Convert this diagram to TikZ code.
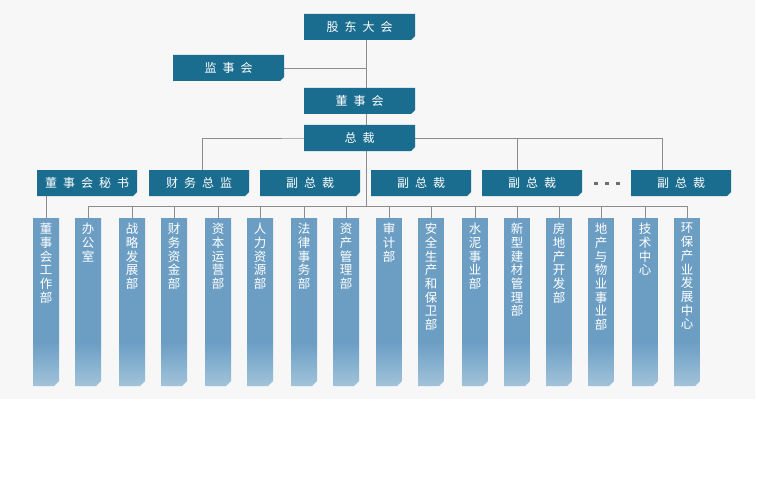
\documentclass[tikz,border=0pt]{standalone}
\usepackage{fontspec}
\setmainfont{Noto Sans CJK SC}
\usepackage{tikz}
\usetikzlibrary{
    calc,
    backgrounds
}
\definecolor{bggray}{RGB}{247,247,247}
\definecolor{boxblue}{RGB}{27,109,143}
\definecolor{deptblue}{RGB}{108,158,196}
\definecolor{deptpale}{RGB}{162,195,218}
\definecolor{linegray}{RGB}{140,140,140}
\definecolor{dotgray}{RGB}{110,110,110}
\pgfdeclareverticalshading{deptshade}{100bp}{
    color(0bp)=(deptpale); color(25bp)=(deptpale);
    color(38bp)=(deptblue); color(75bp)=(deptblue); color(100bp)=(deptblue)}
\tikzset{
    cutbox/.style={
        path picture={
            \fill[#1] (path picture bounding box.north west)
                -- (path picture bounding box.north east)
                -- ([yshift=4pt]path picture bounding box.south east)
                -- ([xshift=-4pt]path picture bounding box.south east)
                -- (path picture bounding box.south west) -- cycle;
        }},
    topbox/.style={cutbox=boxblue, minimum width=111pt, minimum height=26pt,
        inner sep=0pt, text=white, font=\fontsize{12}{14}\selectfont},
    midbox/.style={topbox, minimum width=100pt},
    deptbox/.style={minimum width=26pt, minimum height=168pt, inner sep=0pt,
        anchor=north,
        path picture={
            \shade[shading=deptshade] (path picture bounding box.north west)
                -- (path picture bounding box.north east)
                -- ([yshift=5pt]path picture bounding box.south east)
                -- ([xshift=-5pt]path picture bounding box.south east)
                -- (path picture bounding box.south west) -- cycle;
        }},
    deptlab/.style={anchor=north, yshift=-3pt, inner sep=2pt, text=white,
        align=center, font=\fontsize{12.5}{13.7}\selectfont},
    link/.style={draw=linegray, line width=0.9pt}
}
\newcommand{\sep}{\enspace}

\begin{document}
\begin{tikzpicture}[x=1pt, y=-1pt]
    \useasboundingbox (0,0) rectangle (757,484);
    % top of the chart
    \node[topbox] (gd) at (359.5,27) {股\sep 东\sep 大\sep 会};
    \node[topbox] (jsh) at (228.5,68) {监\sep 事\sep 会};
    \node[topbox] (dsh) at (359.5,101) {董\sep 事\sep 会};
    \node[topbox] (zc) at (359.5,138) {总\sep 裁};
    % second row
    \node[midbox] (ms) at (87,183) {董\sep 事\sep 会\sep 秘\sep 书};
    \node[midbox] (cw) at (199,183) {财\sep 务\sep 总\sep 监};
    \foreach \n/\x in {1/310,2/421,3/532,4/681}{
        \node[midbox] (vp\n) at (\x,183) {副\sep 总\sep 裁};
    }
    \foreach \x in {594,605,616}{
        \fill[dotgray] (\x,181.5) rectangle ++(3.5,3.5);
    }
    % departments
    \foreach \i/\x/\t in {
        0/46/董\\事\\会\\工\\作\\部,
        1/88/办\\公\\室,
        2/132/战\\略\\发\\展\\部,
        3/174/财\\务\\资\\金\\部,
        4/218/资\\本\\运\\营\\部,
        5/260/人\\力\\资\\源\\部,
        6/304/法\\律\\事\\务\\部,
        7/346/资\\产\\管\\理\\部,
        8/389/审\\计\\部,
        9/431/安\\全\\生\\产\\和\\保\\卫\\部,
        10/475/水\\泥\\事\\业\\部,
        11/517/新\\型\\建\\材\\管\\理\\部,
        12/559/房\\地\\产\\开\\发\\部,
        13/601/地\\产\\与\\物\\业\\事\\业\\部,
        14/645/技\\术\\中\\心,
        15/687/环\\保\\产\\业\\发\\展\\中\\心}{
        \node[deptbox, label={[deptlab]north:{\t}}] (d\i) at (\x,218) {};
    }
    \coordinate (hub) at (366.7,206);
    \begin{scope}[on background layer]
        \fill[bggray] (0,0) rectangle (755,399);
        \draw[link] (gd.south -| hub) -- (hub);
        \draw[link] (jsh.east) -- (jsh.east -| hub);
        \draw[link] ([xshift=3pt]cw.north) |- (zc.center) -| ([xshift=-15pt]vp3.north);
        \draw[link] (zc.center) -| ([xshift=-19pt]vp4.north);
        \draw[link] (ms.south -| d0.north) -- (d0.north);
        \foreach \i in {1,...,15}{
            \draw[link] (hub) -| (d\i.north);
        }
    \end{scope}
\end{tikzpicture}
\end{document}
